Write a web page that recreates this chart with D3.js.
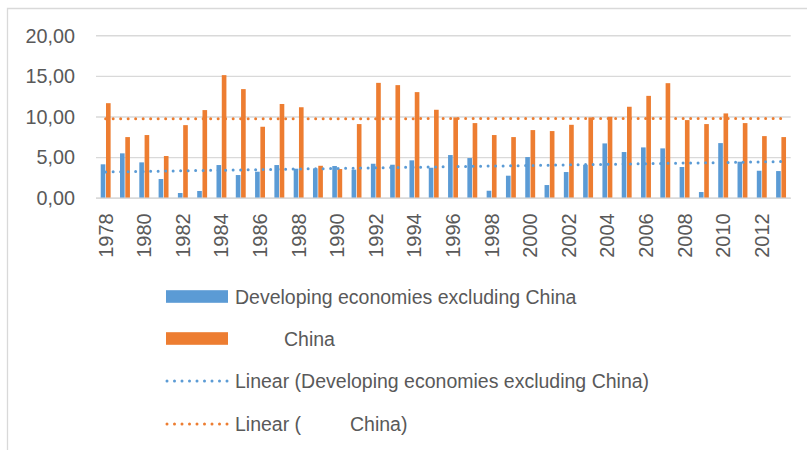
<!DOCTYPE html>
<html><head><meta charset="utf-8">
<script src="https://cdn.jsdelivr.net/npm/d3@7"></script>
<style>
html,body{margin:0;padding:0;background:#fff;}
svg{display:block;font-family:"Liberation Sans",Arial,sans-serif;}
</style></head>
<body><svg id="c" width="807" height="450"></svg>
<script>
const years = d3.range(1978, 2014).map(String);
const developing = [4.18,5.53,4.42,2.37,0.65,0.90,4.09,2.86,3.27,4.09,3.64,3.68,3.97,3.52,4.25,4.13,4.67,3.76,5.32,4.95,0.93,2.78,5.07,1.63,3.23,4.13,6.75,5.69,6.26,6.14,3.85,0.77,6.79,4.50,3.39,3.35];
const china = [11.70,7.53,7.78,5.20,9.00,10.85,15.15,13.43,8.80,11.60,11.20,4.00,3.60,9.13,14.20,13.92,13.06,10.89,9.95,9.25,7.78,7.53,8.39,8.27,9.04,9.95,10.03,11.26,12.60,14.16,9.62,9.13,10.44,9.25,7.65,7.53];
const yTicks = [0,5,10,15,20];
const seriesNames = ["Developing economies excluding China","China"];
const colors = ["#5b9bd5","#ed7d31"];

const svg = d3.select("#c");
const textColor = "#595959";

// chart frame
svg.append("path").attr("d","M7.5,450 V8.5 H807").attr("fill","none").attr("stroke","#d9d9d9").attr("stroke-width",1.3);

const x = d3.scaleBand().domain(years).range([96, 790.7]).padding(0);
const y = d3.scaleLinear().domain([0,20]).range([198.3, 35.7]);
const bw = x.bandwidth();

// gridlines
svg.append("g").selectAll("line").data(yTicks).join("line")
  .attr("x1",96).attr("x2",790.7)
  .attr("y1",d=>y(d)).attr("y2",d=>y(d))
  .attr("stroke","#d9d9d9").attr("stroke-width",1.4);

// y axis labels
const fmt = v => d3.format(".2f")(v).replace(".", ",");
const yAxis = d3.axisLeft(y).tickValues(yTicks).tickFormat(fmt).tickSize(0).tickPadding(0);
const yg = svg.append("g").attr("transform","translate(75,0)").call(yAxis);
yg.select(".domain").remove();
yg.selectAll("text").attr("font-size",19.8).attr("fill",textColor).attr("font-family","Liberation Sans, Arial, sans-serif");

// bars
const data = years.map((yr,i)=>({yr, a:developing[i], b:china[i]}));
svg.append("g").selectAll("rect").data(data).join("rect")
  .attr("x",d=>x(d.yr)+bw/2-0.256*bw).attr("width",0.24*bw)
  .attr("y",d=>y(d.a)).attr("height",d=>y(0)-y(d.a))
  .attr("fill",colors[0]);
svg.append("g").selectAll("rect").data(data).join("rect")
  .attr("x",d=>x(d.yr)+bw/2+0.018*bw).attr("width",0.24*bw)
  .attr("y",d=>y(d.b)).attr("height",d=>y(0)-y(d.b))
  .attr("fill",colors[1]);

// baseline
svg.append("line").attr("x1",96).attr("x2",790.7).attr("y1",y(0)).attr("y2",y(0))
  .attr("stroke","#d9d9d9").attr("stroke-width",1.6);

// linear trendlines (least squares on the series)
function trend(vals){
  const n = vals.length, xs = d3.range(n);
  const mx = d3.mean(xs), my = d3.mean(vals);
  let sxy=0, sxx=0;
  xs.forEach((xi,i)=>{sxy+=(xi-mx)*(vals[i]-my); sxx+=(xi-mx)*(xi-mx);});
  const b = sxy/sxx, a = my - b*mx;
  return [[0, a],[n-1, a+b*(n-1)]];
}
[developing, china].forEach((vals,k)=>{
  const t = trend(vals);
  const line = d3.line().x(d=>x(years[d[0]])+bw/2).y(d=>y(d[1]));
  svg.append("path").attr("d",line(t)).attr("fill","none")
    .attr("stroke",colors[k]).attr("stroke-width",3)
    .attr("stroke-linecap","round").attr("stroke-dasharray","0 7.5");
});

// x axis labels
const xAxis = d3.axisBottom(x).tickValues(years.filter((d,i)=>i%2===0)).tickSize(0).tickPadding(0);
const xg = svg.append("g").attr("transform",`translate(0,${y(0)})`).call(xAxis);
xg.select(".domain").remove();
xg.selectAll("text")
  .attr("font-size",20).attr("fill",textColor).attr("font-family","Liberation Sans, Arial, sans-serif")
  .attr("text-anchor","end").attr("dy",null).attr("y",0)
  .attr("transform","translate(7,15) rotate(-90)");

// legend
const lg = svg.append("g").attr("font-size",19.5).attr("fill",textColor);
const rowY = [296.5, 338.5, 381, 424];
lg.append("rect").attr("x",166).attr("y",rowY[0]-6.3).attr("width",62).attr("height",12.6).attr("fill",colors[0]);
lg.append("rect").attr("x",166).attr("y",rowY[1]-6.3).attr("width",62).attr("height",12.6).attr("fill",colors[1]);
[2,3].forEach((r,k)=>{
  lg.append("line").attr("x1",167).attr("x2",228).attr("y1",rowY[r]).attr("y2",rowY[r])
    .attr("stroke",colors[k]).attr("stroke-width",3).attr("stroke-linecap","round").attr("stroke-dasharray","0 7.5");
});
lg.append("text").attr("x",235).attr("y",rowY[0]+7).text(seriesNames[0]);
lg.append("text").attr("x",284).attr("y",rowY[1]+7).text(seriesNames[1]);
lg.append("text").attr("x",235).attr("y",rowY[2]+7).text("Linear (" + seriesNames[0] + ")");
const t4 = lg.append("text").attr("x",235).attr("y",rowY[3]+7);
t4.append("tspan").text("Linear (");
t4.append("tspan").attr("x",350).text(seriesNames[1] + ")");
</script></body></html>
